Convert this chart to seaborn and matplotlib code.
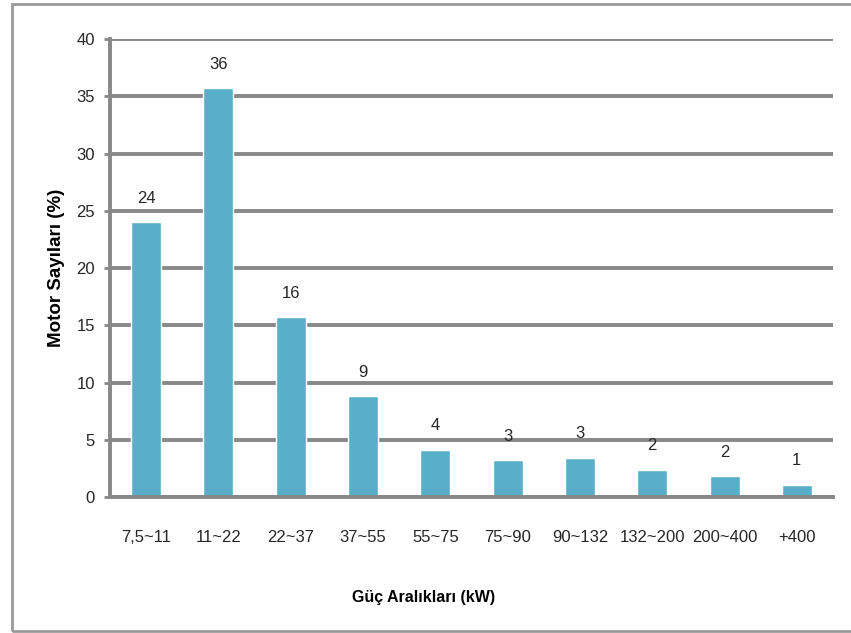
import matplotlib
matplotlib.use("Agg")
import matplotlib.pyplot as plt
from matplotlib.patches import Rectangle
from matplotlib.ticker import FixedLocator, NullFormatter
import seaborn as sns
import pandas as pd

# Motor power ranges and share of motors (%)
power_ranges = ["7,5~11", "11~22", "22~37", "37~55", "55~75",
                "75~90", "90~132", "132~200", "200~400", "+400"]
motor_share = [24.0, 35.7, 15.7, 8.8, 4.1, 3.2, 3.45, 2.4, 1.8, 1.05]
y_ticks = [0, 5, 10, 15, 20, 25, 30, 35, 40]

df = pd.DataFrame({"range": power_ranges, "share": motor_share})

sns.set_theme(style="white")
plt.rcParams["font.family"] = ["Liberation Sans", "DejaVu Sans"]

grey = "#888888"
bar_color = "#5aafc8"
text_color = "#262626"

fig = plt.figure(figsize=(8.51, 6.33), dpi=100)
ax = fig.add_axes([0.1293, 0.2148, 0.8495, 0.7236])

sns.barplot(data=df, x="range", y="share", color=bar_color, width=0.415,
            saturation=1, ax=ax, zorder=3)

ax.set_ylim(0, 40)
ax.set_xlim(-0.5, len(power_ranges) - 0.5)
ax.set_yticks(y_ticks)

# Horizontal gridlines
ax.yaxis.grid(True, color=grey, lw=2.8, zorder=0)
ax.set_axisbelow(True)

for side in ["top", "right"]:
    ax.spines[side].set_visible(False)
for side in ["left", "bottom"]:
    ax.spines[side].set_color(grey)
    ax.spines[side].set_linewidth(2.8)
    ax.spines[side].set_zorder(4)

# Category separators as minor ticks on the x axis
ax.xaxis.set_minor_locator(FixedLocator([i - 0.5 for i in range(len(power_ranges) + 1)]))
ax.xaxis.set_minor_formatter(NullFormatter())
ax.tick_params(axis="x", which="major", length=0, pad=24, labelsize=12, labelcolor=text_color)
ax.tick_params(axis="x", which="minor", length=6, width=2, color=grey, direction="out")
ax.tick_params(axis="y", which="major", length=4, width=2, color=grey, direction="out",
               pad=7, labelsize=12, labelcolor=text_color, left=True)

# Value labels above bars
ax.bar_label(ax.containers[0], fmt="%.0f", padding=12, fontsize=12, color=text_color)

ax.set_xlabel("Güç Aralıkları (kW)", fontsize=11.5, fontweight="bold", color="black")
ax.set_ylabel("Motor Sayıları (%)", fontsize=13.5, fontweight="bold", color="black")
ax.xaxis.set_label_coords(0.434, -0.203)
ax.yaxis.set_label_coords(-0.062, 0.5)

# Outer frame of the chart area
fig.patches.append(Rectangle((12 / 851, 1 - 631 / 633), 845 / 851, 627 / 633,
                             transform=fig.transFigure, fill=False,
                             edgecolor="#9a9a9a", lw=2, zorder=0))

fig.savefig("out.png", dpi=100)
